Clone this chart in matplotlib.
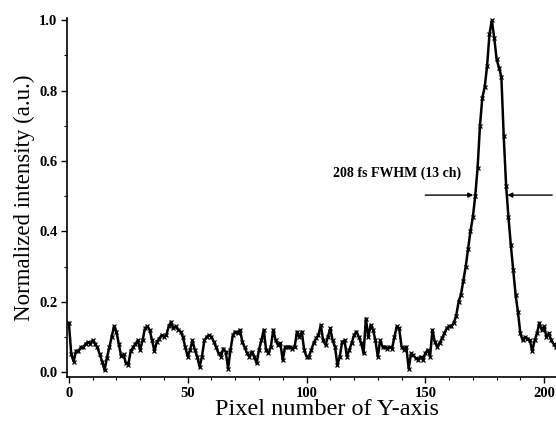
import numpy as np
import matplotlib
matplotlib.use("Agg")
from matplotlib import pyplot as plt
from matplotlib.ticker import MultipleLocator, FormatStrFormatter

# Intensity per pixel (channel 0..205)
baseline = [
    0.14, 0.05, 0.03, 0.06, 0.06, 0.07, 0.07, 0.08, 0.085, 0.08,
    0.09, 0.08, 0.07, 0.05, 0.03, 0.005, 0.04, 0.07, 0.10, 0.13,
    0.115, 0.08, 0.045, 0.05, 0.025, 0.02, 0.06, 0.07, 0.08, 0.09,
    0.063, 0.09, 0.124, 0.13, 0.12, 0.09, 0.06, 0.086, 0.095, 0.105,
    0.10, 0.105, 0.13, 0.143, 0.124, 0.13, 0.12, 0.115, 0.10, 0.07,
    0.044, 0.063, 0.09, 0.063, 0.044, 0.015, 0.044, 0.09, 0.10, 0.105,
    0.10, 0.086, 0.07, 0.053, 0.044, 0.067, 0.058, 0.01, 0.063, 0.105,
    0.115, 0.11, 0.12, 0.086, 0.07, 0.053, 0.044, 0.058, 0.044, 0.025,
    0.063, 0.09, 0.12, 0.063, 0.053, 0.072, 0.12, 0.09, 0.077, 0.082,
    0.034, 0.072, 0.072, 0.072, 0.067, 0.072, 0.115, 0.10, 0.115, 0.063,
    0.044, 0.044, 0.063, 0.082, 0.096, 0.105, 0.134, 0.09, 0.077, 0.10,
    0.124, 0.09, 0.072, 0.02, 0.044, 0.086, 0.09, 0.044, 0.063, 0.082,
    0.105, 0.115, 0.10, 0.082, 0.053, 0.152, 0.10, 0.134, 0.12, 0.09,
    0.044, 0.09, 0.072, 0.072, 0.067, 0.072, 0.067, 0.10, 0.13, 0.124,
    0.072, 0.063, 0.072, 0.01, 0.053, 0.048, 0.039, 0.034, 0.044, 0.034,
    0.053, 0.063, 0.044, 0.12, 0.086, 0.072, 0.082, 0.096, 0.11, 0.124,
    0.13,
]
peak = [
    0.13, 0.14, 0.16, 0.20, 0.22, 0.26, 0.30, 0.35, 0.40, 0.44,
    0.50, 0.58, 0.70, 0.78, 0.81, 0.87, 0.96, 1.00, 0.95, 0.89,
    0.865, 0.84, 0.67, 0.53, 0.44, 0.36, 0.29, 0.22, 0.17, 0.11,
    0.09, 0.10, 0.095, 0.09, 0.06, 0.09, 0.11, 0.14, 0.12, 0.13,
    0.10, 0.11, 0.09, 0.08, 0.07,
]
intensity = np.array(baseline + peak)
pixel = np.arange(len(intensity))

# FWHM markers
fwhm_left = 170.2
fwhm_right = 184.5
half_level = 0.503
fwhm_label = "208 fs FWHM (13 ch)"

serif = ["Liberation Serif", "DejaVu Serif"]
plt.rcParams["font.family"] = serif

fig = plt.figure(figsize=(5.56, 4.21), dpi=100)
ax = fig.add_axes([0.1205, 0.1045, 0.8795, 0.8525])

ax.plot(pixel, intensity, color="black", linewidth=1.8,
        marker="x", markersize=3.5, markeredgewidth=0.9)

# Arrows pointing at the half-maximum crossings
arrow_kw = dict(arrowstyle="-|>", color="black", lw=1.0, mutation_scale=7,
                shrinkA=0, shrinkB=0)
ax.annotate("", xy=(fwhm_left, half_level), xytext=(150, half_level),
            arrowprops=arrow_kw)
ax.annotate("", xy=(fwhm_right, half_level), xytext=(203.4, half_level),
            arrowprops=arrow_kw)
ax.text(111.3, 0.565, fwhm_label, fontsize=10, fontweight="bold",
        ha="left", va="center")

ax.set_xlim(-0.8, 205)
ax.set_ylim(-0.014, 1.006)
ax.xaxis.set_major_locator(MultipleLocator(50))
ax.xaxis.set_minor_locator(MultipleLocator(10))
ax.yaxis.set_major_locator(MultipleLocator(0.2))
ax.yaxis.set_minor_locator(MultipleLocator(0.1))
ax.yaxis.set_major_formatter(FormatStrFormatter("%.1f"))

ax.spines["top"].set_visible(False)
ax.spines["right"].set_visible(False)
ax.spines["left"].set_linewidth(1.2)
ax.spines["bottom"].set_linewidth(1.2)
ax.tick_params(which="major", direction="out", length=4, width=1.0,
               labelsize=10.5, pad=3)
ax.tick_params(which="minor", direction="out", length=2, width=0.8)
for lbl in ax.get_xticklabels() + ax.get_yticklabels():
    lbl.set_fontweight("bold")

# x label sits a little right of the axis centre in the original
fig.text(327 / 556, 1 - 415 / 421, "Pixel number of Y-axis", fontsize=17.5,
         ha="center", va="baseline")
ax.set_ylabel("Normalized intensity (a.u.)", fontsize=16.5, labelpad=3)

fig.savefig("out.png", dpi=100)
